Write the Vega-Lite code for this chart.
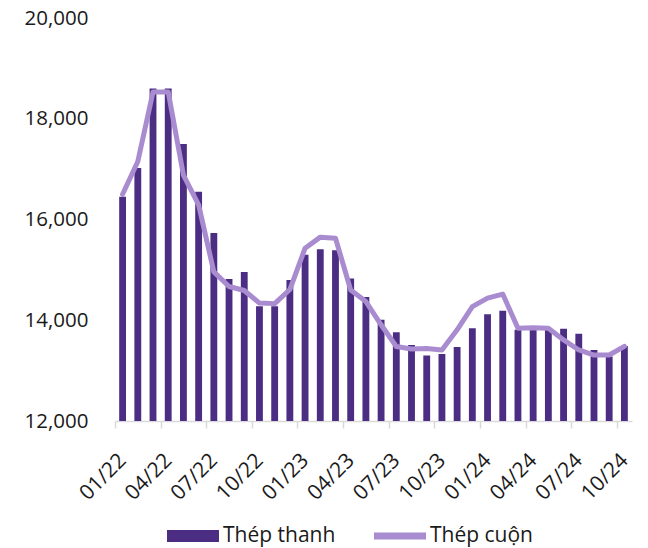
{
  "$schema": "https://vega.github.io/schema/vega-lite/v6.json",
  "width": 517,
  "height": 403,
  "autosize": "none",
  "padding": {"left": 115, "top": 18, "right": 16, "bottom": 127},
  "background": "white",
  "config": {"view": {"stroke": null}, "font": "Open Sans"},
  "data": {"values": [
    {"m": "01/22", "thanh": 16450, "cuon": 16500},
    {"m": "02/22", "thanh": 17020, "cuon": 17150},
    {"m": "03/22", "thanh": 18600, "cuon": 18530},
    {"m": "04/22", "thanh": 18600, "cuon": 18530},
    {"m": "05/22", "thanh": 17500, "cuon": 16880},
    {"m": "06/22", "thanh": 16550, "cuon": 16290},
    {"m": "07/22", "thanh": 15730, "cuon": 14960},
    {"m": "08/22", "thanh": 14820, "cuon": 14670},
    {"m": "09/22", "thanh": 14960, "cuon": 14590},
    {"m": "10/22", "thanh": 14280, "cuon": 14340},
    {"m": "11/22", "thanh": 14280, "cuon": 14330},
    {"m": "12/22", "thanh": 14800, "cuon": 14610},
    {"m": "01/23", "thanh": 15300, "cuon": 15430},
    {"m": "02/23", "thanh": 15410, "cuon": 15650},
    {"m": "03/23", "thanh": 15390, "cuon": 15630},
    {"m": "04/23", "thanh": 14830, "cuon": 14600},
    {"m": "05/23", "thanh": 14460, "cuon": 14370},
    {"m": "06/23", "thanh": 14010, "cuon": 13910},
    {"m": "07/23", "thanh": 13760, "cuon": 13480},
    {"m": "08/23", "thanh": 13510, "cuon": 13430},
    {"m": "09/23", "thanh": 13300, "cuon": 13440},
    {"m": "10/23", "thanh": 13330, "cuon": 13410},
    {"m": "11/23", "thanh": 13470, "cuon": 13810},
    {"m": "12/23", "thanh": 13840, "cuon": 14270},
    {"m": "01/24", "thanh": 14120, "cuon": 14440},
    {"m": "02/24", "thanh": 14190, "cuon": 14520},
    {"m": "03/24", "thanh": 13810, "cuon": 13840},
    {"m": "04/24", "thanh": 13860, "cuon": 13850},
    {"m": "05/24", "thanh": 13830, "cuon": 13840},
    {"m": "06/24", "thanh": 13830, "cuon": 13610},
    {"m": "07/24", "thanh": 13730, "cuon": 13410},
    {"m": "08/24", "thanh": 13410, "cuon": 13310},
    {"m": "09/24", "thanh": 13280, "cuon": 13310},
    {"m": "10/24", "thanh": 13490, "cuon": 13480}
  ]},
  "encoding": {
    "x": {
      "field": "m", "type": "ordinal", "sort": null, "title": null,
      "scale": {"paddingInner": 0.55, "paddingOuter": 0.275},
      "axis": {
        "values": ["01/22","04/22","07/22","10/22","01/23","04/23","07/23","10/23","01/24","04/24","07/24","10/24"],
        "labelAngle": -45, "labelAlign": "right", "labelBaseline": "middle",
        "labelFontSize": 21, "labelColor": "#1a1a1a", "labelPadding": 29,
        "tickOffset": -7.6, "labelOffset": 7.6,
        "domainColor": "#d9d9d9", "domainWidth": 1.5, "tickColor": "#d9d9d9", "tickWidth": 1.5, "tickSize": 7
      }
    }
  },
  "layer": [
    {
      "mark": {"type": "bar", "clip": true},
      "encoding": {
        "y": {"field": "thanh", "type": "quantitative", "title": null,
          "scale": {"domain": [12000, 20000], "zero": false},
          "axis": {"values": [12000, 14000, 16000, 18000, 20000], "format": ",.0f", "grid": false, "domain": false, "ticks": false,
            "labelFontSize": 20.5, "labelColor": "#1a1a1a", "labelPadding": 27}},
        "color": {"datum": "Thép thanh", "type": "nominal",
          "scale": {"domain": ["Thép thanh", "Thép cuộn"], "range": ["#4b2e83", "#a98bd0"]},
          "legend": {
            "title": null, "orient": "none", "legendX": 52, "legendY": 492, "direction": "horizontal",
            "labelFontSize": 21, "labelColor": "#1a1a1a", "labelOffset": 4, "columnPadding": 38,
            "symbolSize": 2704, "symbolType": "M-1,-0.23H1V0.23H-1Z", "symbolStrokeWidth": 0,
            "encode": {"symbols": {"update": {
              "shape": {"signal": "datum.value === 'Thép thanh' ? 'M-1,-0.23H1V0.23H-1Z' : 'M-1,-0.13H1V0.13H-1Z'"},
              "fill": {"scale": "color", "field": "value"},
              "stroke": {"value": "transparent"},
              "opacity": {"value": 1}
            }}}
          }}
      }
    },
    {
      "mark": {"type": "line", "strokeWidth": 5, "strokeJoin": "round", "strokeCap": "round", "clip": true},
      "encoding": {
        "y": {"field": "cuon", "type": "quantitative"},
        "color": {"datum": "Thép cuộn", "type": "nominal"}
      }
    }
  ]
}
